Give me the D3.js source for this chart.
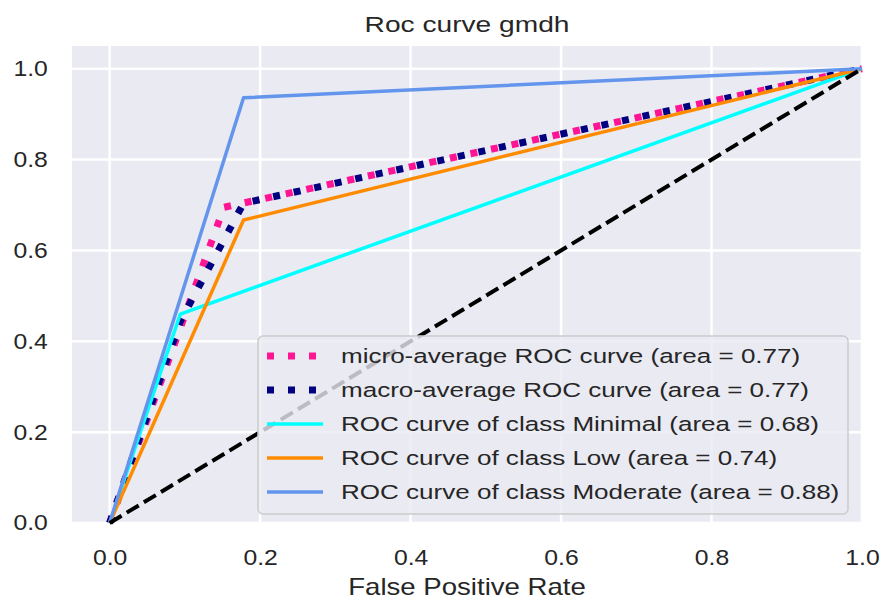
<!DOCTYPE html>
<html>
<head>
<meta charset="utf-8">
<script src="https://cdn.jsdelivr.net/npm/d3@7"></script>
<style>
  body { margin: 0; background: #fff; }
  svg text { font-family: "Liberation Sans", Arial, sans-serif; fill: #262626; }
</style>
</head>
<body>
<div id="chart"></div>
<script>
var width = 881,
    height = 599;

// series
var seriesNames = ["micro-average ROC curve (area = 0.77)",
                   "macro-average ROC curve (area = 0.77)",
                   "ROC curve of class Minimal (area = 0.68)",
                   "ROC curve of class Low (area = 0.74)",
                   "ROC curve of class Moderate (area = 0.88)"];
var microFpr = [0, 0.152, 1],
    microTpr = [0, 0.695, 1];
var macroFpr = [0, 0.094, 0.178, 1],
    macroTpr = [0, 0.444, 0.704, 1];
var minimalFpr = [0, 0.094, 1],
    minimalTpr = [0, 0.46, 1];
var lowFpr = [0, 0.178, 1],
    lowTpr = [0, 0.667, 1];
var moderateFpr = [0, 0.178, 1],
    moderateTpr = [0, 0.936, 1];
var chanceFpr = [0, 1],
    chanceTpr = [0, 1];
var xTicks = [0, 0.2, 0.4, 0.6, 0.8, 1.0],
    yTicks = [0, 0.2, 0.4, 0.6, 0.8, 1.0];

var pLeft = 72, pRight = 862, pTop = 46, pBottom = 523;

var x = d3.scaleLinear().domain([-0.05, 1.0]).range([pLeft, pRight]);
var y = d3.scaleLinear().domain([0, 1.05]).range([pBottom, pTop]);

var svg = d3.select("#chart").append("svg")
    .attr("width", width)
    .attr("height", height);

svg.append("rect")
    .attr("x", pLeft).attr("y", pTop)
    .attr("width", pRight - pLeft).attr("height", pBottom - pTop)
    .attr("fill", "#eaeaf2");

// grid
svg.append("g").selectAll("line").data(xTicks).enter().append("line")
    .attr("x1", function(d) { return x(d); }).attr("x2", function(d) { return x(d); })
    .attr("y1", pTop).attr("y2", pBottom)
    .attr("stroke", "#fff").attr("stroke-width", 2.5);
svg.append("g").selectAll("line").data(yTicks).enter().append("line")
    .attr("y1", function(d) { return y(d); }).attr("y2", function(d) { return y(d); })
    .attr("x1", pLeft).attr("x2", pRight)
    .attr("stroke", "#fff").attr("stroke-width", 2.5);

// axes, no spines or ticks
var xAxis = svg.append("g")
    .attr("transform", "translate(0," + pBottom + ")")
    .call(d3.axisBottom(x).tickValues(xTicks).tickFormat(d3.format(".1f")).tickSize(0).tickPadding(27));
var yAxis = svg.append("g")
    .attr("transform", "translate(" + pLeft + ",0)")
    .call(d3.axisLeft(y).tickValues(yTicks).tickFormat(d3.format(".1f")).tickSize(0).tickPadding(21));
[xAxis, yAxis].forEach(function(a) {
  a.select(".domain").remove();
  a.selectAll("text").attr("font-size", 21.5).attr("fill", "#2e2e2e")
    .attr("font-family", "Liberation Sans, Arial, sans-serif")
    .attr("transform", "scale(1.15,1)");
});

var line = d3.line()
    .x(function(d) { return x(d[0]); })
    .y(function(d) { return y(d[1]); });

var series = [
  {fpr: microFpr, tpr: microTpr, color: "deeppink", width: 7, dash: "7,14"},
  {fpr: macroFpr, tpr: macroTpr, color: "navy", width: 7, dash: "7,14"},
  {fpr: minimalFpr, tpr: minimalTpr, color: "aqua", width: 3.5, dash: null},
  {fpr: lowFpr, tpr: lowTpr, color: "darkorange", width: 3.5, dash: null},
  {fpr: moderateFpr, tpr: moderateTpr, color: "cornflowerblue", width: 3.5, dash: null}
];

series.forEach(function(s) {
  svg.append("path")
    .datum(d3.zip(s.fpr, s.tpr))
    .attr("d", line)
    .attr("fill", "none")
    .attr("stroke", s.color)
    .attr("stroke-width", s.width)
    .attr("stroke-dasharray", s.dash)
    .attr("stroke-linejoin", "round");
});

svg.append("path")
    .datum(d3.zip(chanceFpr, chanceTpr))
    .attr("d", line)
    .attr("fill", "none")
    .attr("stroke", "#000")
    .attr("stroke-width", 4)
    .attr("stroke-dasharray", "14,6");

// legend
var legend = svg.append("g");
legend.append("rect")
    .attr("x", 258).attr("y", 336)
    .attr("width", 590).attr("height", 178)
    .attr("rx", 5)
    .attr("fill", "#eaeaf2").attr("fill-opacity", 0.8)
    .attr("stroke", "#cccccc").attr("stroke-width", 1.5);

series.forEach(function(s, i) {
  var cy = 356 + i * 34;
  legend.append("line")
    .attr("x1", 267).attr("x2", 323)
    .attr("y1", cy).attr("y2", cy)
    .attr("stroke", s.color)
    .attr("stroke-width", s.width)
    .attr("stroke-dasharray", s.dash);
  legend.append("g")
    .attr("transform", "translate(341," + cy + ") scale(1.27,1)")
    .append("text")
    .attr("dy", "0.35em")
    .attr("font-size", 20.5)
    .text(seriesNames[i]);
});

// title and x label, stretched like the reference
svg.append("g")
    .attr("transform", "translate(" + (pLeft + pRight) / 2 + ",32) scale(1.28,1)")
    .append("text")
    .attr("text-anchor", "middle")
    .attr("font-size", 22)
    .text("Roc curve gmdh");

svg.append("g")
    .attr("transform", "translate(" + (pLeft + pRight) / 2 + ",595) scale(1.2,1)")
    .append("text")
    .attr("text-anchor", "middle")
    .attr("font-size", 23)
    .text("False Positive Rate");
</script>
</body>
</html>
